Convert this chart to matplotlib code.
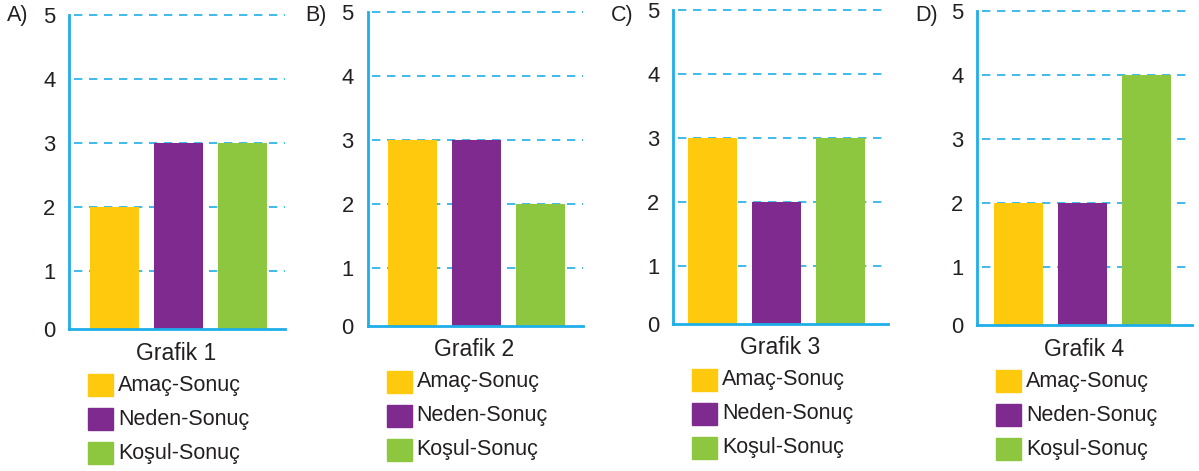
import matplotlib.pyplot as plt
from matplotlib.patches import Rectangle

plt.rcParams['font.family'] = ['Liberation Sans', 'DejaVu Sans']

# Veriler
panels = ["A)", "B)", "C)", "D)"]
titles = ["Grafik 1", "Grafik 2", "Grafik 3", "Grafik 4"]
categories = ["Amaç-Sonuç", "Neden-Sonuç", "Koşul-Sonuç"]
values = [
    [2, 3, 3],
    [3, 3, 2],
    [3, 2, 3],
    [2, 2, 4],
]
yticks = [0, 1, 2, 3, 4, 5]

colors = ["#FFC90E", "#7F2A8E", "#8DC63F"]
axis_color = "#1EAEE8"
text_color = "#231F20"

W, H = 1199, 471
Y0 = 0.095  # alt eksen cizgisi sifirin biraz ustunde
# eksen kutulari (piksel): sol, sag, ust(5 cizgisi), alt, x sol siniri
boxes = [
    (69.3, 285, 15.3, 329, -0.706),
    (367.7, 583, 12.3, 326, -0.70),
    (673.3, 888, 10.3, 324, -0.613),
    (977.3, 1192, 11, 325, -0.645),
]

fig = plt.figure(figsize=(W / 100, H / 100), dpi=100)

for i, (l, r, t, b, x0) in enumerate(boxes):
    ax = fig.add_axes([l / W, 1 - b / H, (r - l) / W, (b - t) / H])
    ax.bar(range(3), values[i], width=49 / 64, color=colors, zorder=3)
    ax.set_xlim(x0, x0 + (r - l) / 64)
    ax.set_ylim(Y0, 5)
    ax.set_yticks([Y0] + yticks[1:])
    ax.set_yticklabels([str(v) for v in yticks])
    ax.set_xticks([])
    ax.tick_params(axis='y', length=0, pad=10, labelsize=15.8, labelcolor=text_color)
    for y in yticks[1:]:
        ax.axhline(y, xmin=0.02, color=axis_color, lw=1.2, ls=(0, (5, 4)),
                   zorder=1, clip_on=False)
    for s in ["top", "right"]:
        ax.spines[s].set_visible(False)
    for s in ["left", "bottom"]:
        ax.spines[s].set_color(axis_color)
        ax.spines[s].set_linewidth(2)
        ax.spines[s].set_zorder(4)

    # panel harfi
    fig.text((l - 62) / W, 1 - 15 / H, panels[i], fontsize=15.5,
             color=text_color, ha='left', va='center')
    # grafik basligi
    fig.text(((l + r) / 2 - 1) / W, 1 - (b + 24) / H, titles[i], fontsize=16.5,
             color=text_color, ha='center', va='center')
    # lejant
    for j, cat in enumerate(categories):
        cy = b + 56 + j * 34
        fig.add_artist(Rectangle(((l + 19) / W, 1 - (cy + 11) / H), 25 / W, 22 / H,
                                 transform=fig.transFigure, color=colors[j]))
        fig.text((l + 49) / W, 1 - cy / H, cat, fontsize=15.5,
                 color=text_color, ha='left', va='center')

fig.savefig("out.png", dpi=100)
